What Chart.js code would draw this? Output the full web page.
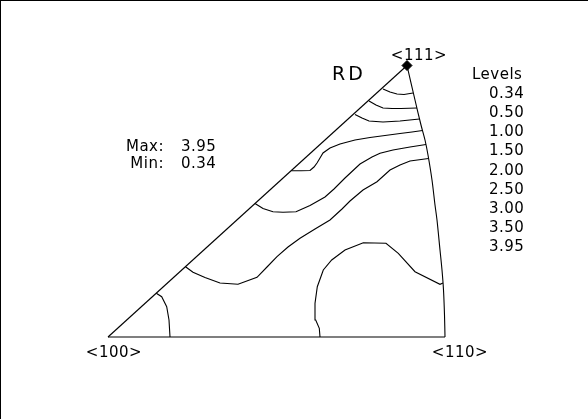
<!DOCTYPE html>
<html>
<head>
<meta charset="utf-8">
<script src="https://cdn.jsdelivr.net/npm/chart.js@4.4.1/dist/chart.umd.min.js"></script>
<style>
  html, body { margin: 0; padding: 0; background: #fff; }
  #ipf { display: block; }
</style>
</head>
<body>
<canvas id="ipf" width="588" height="419"></canvas>
<script>
// inverse pole figure, RD, points given as [x, y] in projection units (<100> at origin)
const pole100 = [0, 0];
const pole110 = [337, 0];
const pole111 = [299, 271.5];

const arc110to111 = [[299, 271.5], [307, 237], [313, 212], [317, 197], [320, 182], [324, 157], [327, 132],
    [329, 117], [332, 87], [334, 67], [335.5, 47], [336.5, 22], [337, 0]];

// iso-density contours
const contour1 = [[275, 248], [282, 245], [289, 243], [296, 242.5], [305, 244]];
const contour2 = [[261, 236], [268, 232], [275, 229], [284, 228.5], [293, 228.5], [309, 229]];
const contour3 = [[247, 222.5], [254, 219], [261, 216], [275, 215], [292, 216], [311.5, 218]];
const contour4 = [[183.5, 166.3], [193, 166.3], [202, 166.5], [206, 170], [209, 174], [212, 179], [215, 184],
    [222, 189], [232, 193], [247, 197], [262, 199.5], [277, 201.5], [292, 203.5], [304, 205], [314.5, 206.5]];
const contour5 = [[147, 133.5], [155, 128.5], [165, 125.3], [175, 124.7], [188, 125.3], [202, 131.5], [217, 140],
    [226, 148], [237, 159], [252, 173], [264, 180], [272, 183.7], [285, 187], [302, 190], [318, 192.5]];
const contour6 = [[77.5, 70.3], [85, 64.7], [97, 59.5], [112, 54], [130, 52.7], [149, 59.7], [159, 70], [169, 80.3],
    [180, 90], [192, 98.7], [207, 108], [222, 117], [234, 128], [242, 136], [255, 147], [269, 155.3], [282, 167],
    [292, 172], [302, 176], [320.5, 178.5]];
const contour7 = [[212, 0], [211.3, 8.7], [207.7, 17], [207, 33.7], [209.3, 50.3], [215.3, 67], [223.7, 77],
    [237, 87], [255.3, 94.3], [278, 93.7], [290.3, 83.7], [307, 65.3], [332, 52.7], [335, 54]];
const contour8 = [[48.3, 43.7], [53.7, 40.3], [58.7, 30.3], [61, 17], [62, 0]];

const levels = ['0.34', '0.50', '1.00', '1.50', '2.00', '2.50', '3.00', '3.50', '3.95'];
const maxValue = '3.95';
const minValue = '0.34';

const toPts = arr => arr.map(p => ({ x: p[0], y: p[1] }));

function lineSet(arr, tension) {
    return {
        data: toPts(arr),
        showLine: true,
        borderColor: '#000',
        borderWidth: 1.1,
        pointRadius: 0,
        tension: tension || 0,
        fill: false
    };
}

const FONT = "'DejaVu Sans', sans-serif";

const labelsPlugin = {
    id: 'ipfLabels',
    afterDraw(chart) {
        const ctx = chart.ctx;
        const sx = chart.scales.x, sy = chart.scales.y;
        const px = p => [sx.getPixelForValue(p[0]), sy.getPixelForValue(p[1])];
        ctx.save();
        ctx.fillStyle = '#000';
        ctx.textBaseline = 'middle';
        ctx.font = '15px ' + FONT;
        ctx.letterSpacing = '0.5px';

        ctx.textAlign = 'center';
        let p = px(pole111);
        ctx.fillText('<111>', p[0] + 12, p[1] - 9);
        p = px(pole100);
        ctx.fillText('<100>', p[0] + 6, p[1] + 16);
        p = px(pole110);
        ctx.fillText('<110>', p[0] + 15, p[1] + 16);

        ctx.textAlign = 'right';
        ctx.fillText('Max:', 164, 147);
        ctx.fillText('Min:', 164, 164);
        ctx.textAlign = 'left';
        ctx.fillText(maxValue, 181, 147);
        ctx.fillText(minValue, 181, 164);

        ctx.fillText('Levels', 472, 75);
        levels.forEach((lv, i) => ctx.fillText(lv, 489, 94 + i * 19.2));

        ctx.font = '19px ' + FONT;
        ctx.letterSpacing = '3px';
        ctx.textAlign = 'center';
        ctx.fillText('RD', 349, 75);

        // frame on the top and left edge
        ctx.fillRect(0, 0, chart.width, 1);
        ctx.fillRect(0, 0, 1, chart.height);
        ctx.restore();
    }
};

new Chart(document.getElementById('ipf'), {
    type: 'scatter',
    data: {
        datasets: [
            {
                data: toPts([pole111]),
                pointStyle: 'rectRot',
                pointRadius: 5,
                backgroundColor: '#000',
                borderColor: '#000',
                showLine: false
            },
            lineSet([pole100, pole111]),
            lineSet([pole100, pole110]),
            lineSet(arc110to111, 0.3),
            lineSet(contour1),
            lineSet(contour2),
            lineSet(contour3),
            lineSet(contour4),
            lineSet(contour5),
            lineSet(contour6),
            lineSet(contour7),
            lineSet(contour8)
        ]
    },
    options: {
        responsive: false,
        animation: false,
        layout: { padding: 0, autoPadding: false },
        scales: {
            x: { type: 'linear', min: -108, max: 480, display: false },
            y: { type: 'linear', min: -82, max: 337, display: false }
        },
        plugins: {
            legend: { display: false },
            tooltip: { enabled: false }
        }
    },
    plugins: [labelsPlugin]
});
</script>
</body>
</html>
